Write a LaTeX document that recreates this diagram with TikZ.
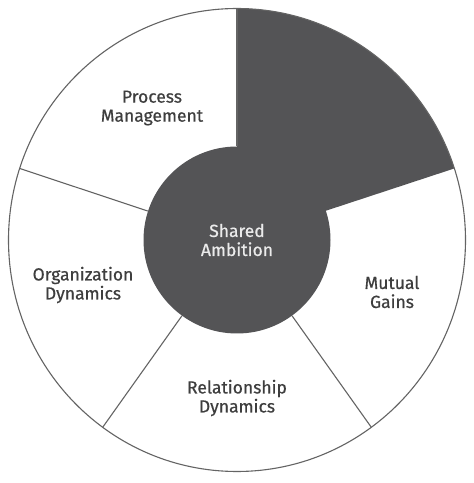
\documentclass[tikz,border=0pt]{standalone}
\usepackage{fontspec}
\setmainfont{Fira Sans}[FakeBold=0.6]
\usetikzlibrary{calc}
\definecolor{darkfill}{RGB}{84,84,86}
\definecolor{linegray}{RGB}{100,100,100}
\definecolor{txtgray}{RGB}{62,62,62}
\begin{document}
\begin{tikzpicture}[x=1pt,y=1pt,
  sep/.style={draw=linegray, line width=1.1pt},
  lbl/.style={align=center, font=\fontsize{17.5}{19}\selectfont, text=txtgray, inner sep=0pt}]
\useasboundingbox (0,0) rectangle (474,483);
\fill[white] (0,0) rectangle (474,483);
\begin{scope}[shift={(237,243)}]
  \coordinate (c) at (0,0);
  \coordinate (o90) at (90:228.5 and 231.5);
  \coordinate (o18) at (18:228.5 and 231.5);
  \coordinate (o306) at (-54:228.5 and 231.5);
  \coordinate (o234) at (-126:228.5 and 231.5);
  \coordinate (o162) at (162:228.5 and 231.5);
  % dark sector
  \fill[darkfill] (c) -- (o90) arc[start angle=90, end angle=18, x radius=228.5, y radius=231.5] -- cycle;
  % hub
  \node[circle, fill=darkfill, minimum size=187pt, inner sep=0pt,
        align=center, font=\fontsize{17.5}{19}\selectfont, text=white!92!black] (hub) at (c) {Shared\\Ambition};
  % separators
  \draw[sep] (hub.90) -- (o90);
  \draw[sep] (hub.162) -- (o162);
  \draw[sep] (hub.-126) -- (o234);
  \draw[sep] (hub.-54) -- (o306);
  % outer rim
  \draw[linegray, line width=1.1pt] (c) ellipse [x radius=228.5, y radius=231.5];
\end{scope}
\node[lbl] (pm) at (152,375) {Process\\Management};
\node[lbl] (od) at (83,198) {Organization\\Dynamics};
\node[lbl] (mg) at (392,191) {Mutual\\Gains};
\node[lbl] (rd) at (237,85) {Relationship\\Dynamics};
\end{tikzpicture}
\end{document}
